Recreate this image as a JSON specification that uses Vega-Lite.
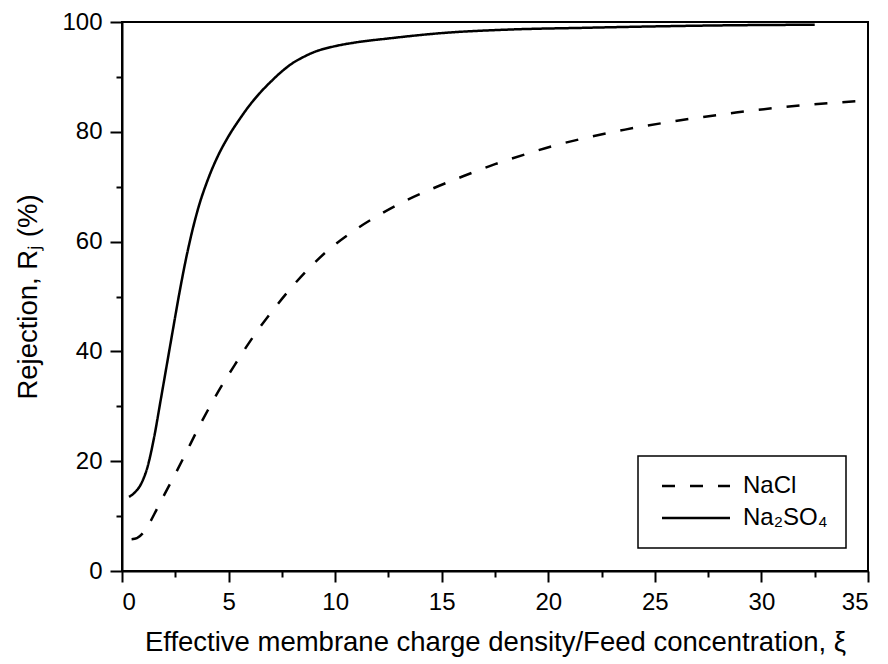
{
  "$schema": "https://vega.github.io/schema/vega-lite/v6.json",
  "autosize": "none",
  "width": 746,
  "height": 549,
  "padding": {"left": 122, "top": 22, "right": 20, "bottom": 93},
  "background": "white",
  "config": {
    "font": "Liberation Sans",
    "view": {"stroke": "black", "strokeWidth": 2},
    "axis": {
      "grid": false,
      "domainColor": "black",
      "domainWidth": 2,
      "tickColor": "black",
      "tickWidth": 2,
      "labelColor": "black",
      "titleColor": "black",
      "labelFont": "Liberation Sans",
      "titleFont": "Liberation Sans",
      "labelFontSize": 24,
      "titleFontSize": 27.5,
      "titleFontWeight": "normal"
    },
    "legend": {
      "labelFont": "Liberation Sans",
      "labelFontSize": 24,
      "labelColor": "black"
    }
  },
  "data": {
    "values": [
      {"series": "NaCl", "x": 0.45, "y": 5.8},
      {"series": "NaCl", "x": 0.7, "y": 6.0},
      {"series": "NaCl", "x": 1.0, "y": 7.0},
      {"series": "NaCl", "x": 1.3, "y": 8.8},
      {"series": "NaCl", "x": 1.6, "y": 11.0},
      {"series": "NaCl", "x": 2.0, "y": 14.0},
      {"series": "NaCl", "x": 2.49, "y": 17.6},
      {"series": "NaCl", "x": 3.0, "y": 21.5},
      {"series": "NaCl", "x": 3.5, "y": 25.4},
      {"series": "NaCl", "x": 4.0, "y": 29.1},
      {"series": "NaCl", "x": 4.52, "y": 32.7},
      {"series": "NaCl", "x": 5.3, "y": 37.6},
      {"series": "NaCl", "x": 6.16, "y": 42.7},
      {"series": "NaCl", "x": 7.1, "y": 47.6},
      {"series": "NaCl", "x": 8.12, "y": 52.4},
      {"series": "NaCl", "x": 8.74, "y": 55.0},
      {"series": "NaCl", "x": 9.6, "y": 58.2},
      {"series": "NaCl", "x": 10.7, "y": 61.5},
      {"series": "NaCl", "x": 11.95, "y": 64.6},
      {"series": "NaCl", "x": 13.28, "y": 67.4},
      {"series": "NaCl", "x": 14.6, "y": 69.7},
      {"series": "NaCl", "x": 16.0, "y": 71.9},
      {"series": "NaCl", "x": 17.5, "y": 74.1},
      {"series": "NaCl", "x": 19.0, "y": 76.0},
      {"series": "NaCl", "x": 20.3, "y": 77.5},
      {"series": "NaCl", "x": 21.65, "y": 78.8},
      {"series": "NaCl", "x": 23.6, "y": 80.4},
      {"series": "NaCl", "x": 26.2, "y": 82.1},
      {"series": "NaCl", "x": 28.8, "y": 83.5},
      {"series": "NaCl", "x": 31.3, "y": 84.6},
      {"series": "NaCl", "x": 35.0, "y": 85.7},
      {"series": "Na₂SO₄", "x": 0.33, "y": 13.5},
      {"series": "Na₂SO₄", "x": 0.6, "y": 14.3},
      {"series": "Na₂SO₄", "x": 0.9, "y": 15.9},
      {"series": "Na₂SO₄", "x": 1.2, "y": 19.0},
      {"series": "Na₂SO₄", "x": 1.5, "y": 24.2},
      {"series": "Na₂SO₄", "x": 1.8, "y": 30.8},
      {"series": "Na₂SO₄", "x": 2.1, "y": 37.5},
      {"series": "Na₂SO₄", "x": 2.4, "y": 44.2},
      {"series": "Na₂SO₄", "x": 2.7, "y": 50.8},
      {"series": "Na₂SO₄", "x": 3.0, "y": 56.8},
      {"series": "Na₂SO₄", "x": 3.3, "y": 62.0},
      {"series": "Na₂SO₄", "x": 3.6, "y": 66.4},
      {"series": "Na₂SO₄", "x": 4.0, "y": 71.0},
      {"series": "Na₂SO₄", "x": 4.5, "y": 75.6},
      {"series": "Na₂SO₄", "x": 5.0, "y": 79.2},
      {"series": "Na₂SO₄", "x": 5.5, "y": 82.2},
      {"series": "Na₂SO₄", "x": 6.0, "y": 84.9},
      {"series": "Na₂SO₄", "x": 6.5, "y": 87.2},
      {"series": "Na₂SO₄", "x": 7.0, "y": 89.2},
      {"series": "Na₂SO₄", "x": 7.5, "y": 91.0},
      {"series": "Na₂SO₄", "x": 8.0, "y": 92.5},
      {"series": "Na₂SO₄", "x": 8.5, "y": 93.6},
      {"series": "Na₂SO₄", "x": 9.0, "y": 94.5},
      {"series": "Na₂SO₄", "x": 10.0, "y": 95.6},
      {"series": "Na₂SO₄", "x": 11.0, "y": 96.3},
      {"series": "Na₂SO₄", "x": 12.5, "y": 97.0},
      {"series": "Na₂SO₄", "x": 15.06, "y": 98.0},
      {"series": "Na₂SO₄", "x": 18.0, "y": 98.6},
      {"series": "Na₂SO₄", "x": 21.8, "y": 98.95},
      {"series": "Na₂SO₄", "x": 25.0, "y": 99.2},
      {"series": "Na₂SO₄", "x": 28.5, "y": 99.4},
      {"series": "Na₂SO₄", "x": 32.5, "y": 99.5}
    ]
  },
  "layer": [
    {
      "mark": {"type": "line", "color": "black", "strokeWidth": 2.5, "interpolate": "monotone", "strokeCap": "butt"},
      "encoding": {
        "x": {
          "field": "x", "type": "quantitative",
          "scale": {"domain": [0, 35], "nice": false, "zero": false},
          "axis": {
            "orient": "bottom",
            "values": [0, 5, 10, 15, 20, 25, 30, 35],
            "tickSize": 11,
            "labelPadding": 8,
            "titlePadding": 14,
            "title": "Effective membrane charge density/Feed concentration, ξ"
          }
        },
        "y": {
          "field": "y", "type": "quantitative",
          "scale": {"domain": [0, 100], "nice": false},
          "axis": {
            "orient": "left",
            "values": [0, 20, 40, 60, 80, 100],
            "tickSize": 12,
            "labelPadding": 8,
            "titlePadding": 19,
            "title": "Rejection, Rⱼ (%)"
          }
        },
        "strokeDash": {
          "field": "series", "type": "nominal",
          "scale": {"domain": ["NaCl", "Na₂SO₄"], "range": [[13, 15], [1, 0]]},
          "legend": {
            "title": null,
            "orient": "none",
            "legendX": 516,
            "legendY": 434,
            "strokeColor": "black",
            "padding": 18,
            "rowPadding": 8,
            "symbolType": "M-0.6,0H6.2",
            "symbolSize": 400,
            "symbolStrokeWidth": 2.5,
            "symbolStrokeColor": "black",
            "labelOffset": 63,
            "encode": {"legend": {"update": {"strokeWidth": {"value": 1.5}}}}
          }
        },
        "detail": {"field": "series", "type": "nominal"}
      }
    },
    {
      "mark": {"type": "line", "strokeOpacity": 0, "color": "black"},
      "encoding": {
        "x": {
          "field": "x", "type": "quantitative",
          "axis": {
            "orient": "bottom",
            "values": [2.5, 7.5, 12.5, 17.5, 22.5, 27.5, 32.5],
            "tickSize": 6,
            "labels": false,
            "domain": false,
            "title": null
          }
        },
        "y": {
          "field": "y", "type": "quantitative",
          "axis": {
            "orient": "left",
            "values": [10, 30, 50, 70, 90],
            "tickSize": 6,
            "labels": false,
            "domain": false,
            "title": null
          }
        },
        "detail": {"field": "series", "type": "nominal"}
      }
    }
  ],
  "resolve": {"axis": {"x": "independent", "y": "independent"}}
}
